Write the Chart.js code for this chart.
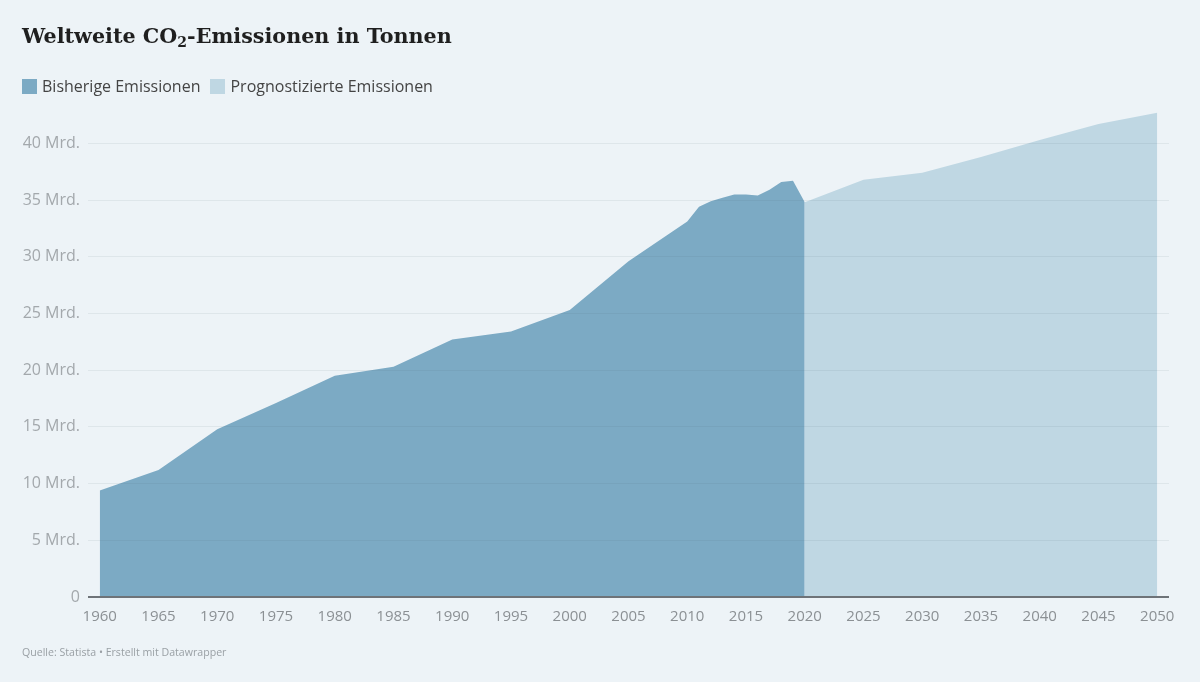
<!DOCTYPE html>
<html lang="de">
<head>
<meta charset="utf-8">
<title>Weltweite CO2-Emissionen in Tonnen</title>
<script src="https://cdn.jsdelivr.net/npm/chart.js@4.4.1/dist/chart.umd.min.js"></script>
<style>
  html, body { margin: 0; padding: 0; background: #edf3f7; }
  #wrap { position: relative; width: 1200px; height: 682px; overflow: hidden; }
  #chart { position: absolute; left: 0; top: 0; }
  .title {
    position: absolute; left: 22px; top: 24px; margin: 0;
    font: bold 20.7px 'DejaVu Serif', serif; color: #1f1f1f; white-space: nowrap;
  }
  .title sub { font-size: 14px; vertical-align: -4px; line-height: 0; }
  .legend { position: absolute; left: 22px; top: 75px; font: 16px 'Open Sans', sans-serif; color: #444; display: flex; }
  .legend span { display: inline-flex; align-items: center; margin-right: 10px; }
  .legend i { display: inline-block; width: 15px; height: 15px; margin-right: 5px; }
  .source { position: absolute; left: 22px; top: 645px; font: 10.6px 'Open Sans', sans-serif; color: #9aa0a5; }
</style>
</head>
<body>
<div id="wrap">
  <canvas id="chart" width="1200" height="682"></canvas>
  <h1 class="title">Weltweite CO<sub>2</sub>-Emissionen in Tonnen</h1>
  <div class="legend">
    <span><i style="background:#7caac4"></i>Bisherige Emissionen</span>
    <span><i style="background:#bfd7e3"></i>Prognostizierte Emissionen</span>
  </div>
  <div class="source">Quelle: Statista • Erstellt mit Datawrapper</div>
</div>
<script>
// ---- Data (Mrd. Tonnen) ----
const histYears  = [1960, 1965, 1970, 1975, 1980, 1985, 1990, 1995, 2000, 2005, 2010,
                    2011, 2012, 2013, 2014, 2015, 2016, 2017, 2018, 2019, 2020];
const histValues = [9.4, 11.2, 14.8, 17.1, 19.5, 20.3, 22.7, 23.4, 25.3, 29.6, 33.1,
                    34.4, 34.9, 35.2, 35.5, 35.5, 35.4, 35.9, 36.6, 36.7, 34.8];

const forecastYears  = [2020, 2025, 2030, 2035, 2040, 2045, 2050];
const forecastValues = [34.8, 36.8, 37.4, 38.8, 40.3, 41.7, 42.7];

const xTicks = [1960, 1965, 1970, 1975, 1980, 1985, 1990, 1995, 2000, 2005,
                2010, 2015, 2020, 2025, 2030, 2035, 2040, 2045, 2050];
const yTicks = [0, 5, 10, 15, 20, 25, 30, 35, 40];

const toPoints = (xs, ys) => xs.map((x, i) => ({ x, y: ys[i] }));

const ctx = document.getElementById('chart').getContext('2d');

new Chart(ctx, {
  type: 'line',
  data: {
    datasets: [
      {
        label: 'Bisherige Emissionen',
        data: toPoints(histYears, histValues),
        fill: 'origin',
        backgroundColor: '#7caac4',
        borderWidth: 0,
        pointRadius: 0,
        tension: 0
      },
      {
        label: 'Prognostizierte Emissionen',
        data: toPoints(forecastYears, forecastValues),
        fill: 'origin',
        backgroundColor: '#bfd7e3',
        borderWidth: 0,
        pointRadius: 0,
        tension: 0
      }
    ]
  },
  options: {
    responsive: false,
    animation: false,
    layout: { padding: { top: 98, right: 31, bottom: 50, left: 0 } },
    plugins: { legend: { display: false }, tooltip: { enabled: false } },
    scales: {
      x: {
        type: 'linear',
        min: 1959,
        max: 2051,
        afterBuildTicks: s => { s.ticks = xTicks.map(v => ({ value: v })); },
        afterFit: s => { s.height = 35; },
        grid: { display: false },
        border: { display: false },
        ticks: {
          color: '#8b9094',
          padding: 3,
          maxRotation: 0,
          autoSkip: false,
          font: { family: "'Open Sans', sans-serif", size: 15 },
          callback: v => String(v)
        }
      },
      y: {
        min: 0,
        max: 44,
        afterBuildTicks: s => { s.ticks = yTicks.map(v => ({ value: v })); },
        afterFit: s => { s.width = 88; },
        border: { display: false },
        grid: {
          z: 1,
          drawTicks: false,
          color: c => c.tick && c.tick.value === 0 ? '#6e7378' : 'rgba(80,95,110,0.09)',
          lineWidth: c => c.tick && c.tick.value === 0 ? 2 : 1
        },
        ticks: {
          color: '#a3a8ac',
          padding: 8,
          font: { family: "'Open Sans', sans-serif", size: 16 },
          callback: v => v === 0 ? '0' : v + ' Mrd.'
        }
      }
    }
  }
});
</script>
</body>
</html>
